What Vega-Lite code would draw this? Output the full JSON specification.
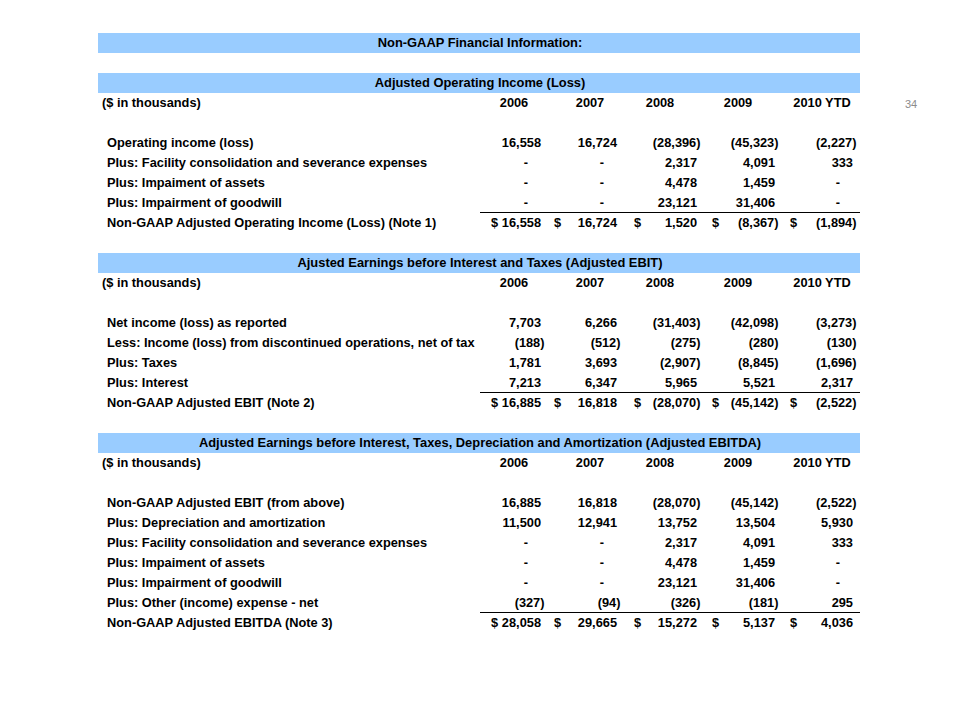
{
  "$schema": "https://vega.github.io/schema/vega-lite/v6.json",
  "width": 960,
  "height": 720,
  "autosize": {"type": "fit", "contains": "padding"},
  "padding": 0,
  "background": "white",
  "config": {
    "view": {"stroke": null},
    "text": {"font": "Liberation Sans", "fontSize": 12.8, "fontWeight": "bold", "baseline": "middle", "color": "#000000"}
  },
  "datasets": {
    "sections": [
      {"title": "Non-GAAP Financial Information:", "titleLine": 0},
      {"title": "Adjusted Operating Income (Loss)", "titleLine": 2, "headerLine": 3, "unit": "($ in thousands)"},
      {"title": "Ajusted Earnings before Interest and Taxes (Adjusted EBIT)", "titleLine": 11, "headerLine": 12, "unit": "($ in thousands)"},
      {"title": "Adjusted Earnings before Interest, Taxes, Depreciation and Amortization (Adjusted EBITDA)", "titleLine": 20, "headerLine": 21, "unit": "($ in thousands)"}
    ],
    "headers": [
      {"line": 3, "year": "2006", "yr": 2006}, {"line": 3, "year": "2007", "yr": 2007}, {"line": 3, "year": "2008", "yr": 2008}, {"line": 3, "year": "2009", "yr": 2009}, {"line": 3, "year": "2010 YTD", "yr": 2010},
      {"line": 12, "year": "2006", "yr": 2006}, {"line": 12, "year": "2007", "yr": 2007}, {"line": 12, "year": "2008", "yr": 2008}, {"line": 12, "year": "2009", "yr": 2009}, {"line": 12, "year": "2010 YTD", "yr": 2010},
      {"line": 21, "year": "2006", "yr": 2006}, {"line": 21, "year": "2007", "yr": 2007}, {"line": 21, "year": "2008", "yr": 2008}, {"line": 21, "year": "2009", "yr": 2009}, {"line": 21, "year": "2010 YTD", "yr": 2010}
    ],
    "rows": [
      {"line": 5, "label": "Operating income (loss)", "total": false},
      {"line": 6, "label": "Plus: Facility consolidation and severance expenses", "total": false},
      {"line": 7, "label": "Plus: Impaiment of assets", "total": false},
      {"line": 8, "label": "Plus: Impairment of goodwill", "total": false},
      {"line": 9, "label": "Non-GAAP Adjusted Operating Income (Loss) (Note 1)", "total": true},
      {"line": 14, "label": "Net income (loss) as reported", "total": false},
      {"line": 15, "label": "Less: Income (loss) from discontinued operations, net of tax", "total": false},
      {"line": 16, "label": "Plus: Taxes", "total": false},
      {"line": 17, "label": "Plus: Interest", "total": false},
      {"line": 18, "label": "Non-GAAP Adjusted EBIT (Note 2)", "total": true},
      {"line": 23, "label": "Non-GAAP Adjusted EBIT (from above)", "total": false},
      {"line": 24, "label": "Plus: Depreciation and amortization", "total": false},
      {"line": 25, "label": "Plus: Facility consolidation and severance expenses", "total": false},
      {"line": 26, "label": "Plus: Impaiment of assets", "total": false},
      {"line": 27, "label": "Plus: Impairment of goodwill", "total": false},
      {"line": 28, "label": "Plus: Other (income) expense - net", "total": false},
      {"line": 29, "label": "Non-GAAP Adjusted EBITDA (Note 3)", "total": true}
    ],
    "cells": [
      {"line": 5, "yr": 2006, "value": 16558}, {"line": 5, "yr": 2007, "value": 16724}, {"line": 5, "yr": 2008, "value": -28396}, {"line": 5, "yr": 2009, "value": -45323}, {"line": 5, "yr": 2010, "value": -2227},
      {"line": 6, "yr": 2006, "value": 0}, {"line": 6, "yr": 2007, "value": 0}, {"line": 6, "yr": 2008, "value": 2317}, {"line": 6, "yr": 2009, "value": 4091}, {"line": 6, "yr": 2010, "value": 333},
      {"line": 7, "yr": 2006, "value": 0}, {"line": 7, "yr": 2007, "value": 0}, {"line": 7, "yr": 2008, "value": 4478}, {"line": 7, "yr": 2009, "value": 1459}, {"line": 7, "yr": 2010, "value": 0},
      {"line": 8, "yr": 2006, "value": 0}, {"line": 8, "yr": 2007, "value": 0}, {"line": 8, "yr": 2008, "value": 23121}, {"line": 8, "yr": 2009, "value": 31406}, {"line": 8, "yr": 2010, "value": 0},
      {"line": 9, "yr": 2006, "value": 16558}, {"line": 9, "yr": 2007, "value": 16724}, {"line": 9, "yr": 2008, "value": 1520}, {"line": 9, "yr": 2009, "value": -8367}, {"line": 9, "yr": 2010, "value": -1894},
      {"line": 14, "yr": 2006, "value": 7703}, {"line": 14, "yr": 2007, "value": 6266}, {"line": 14, "yr": 2008, "value": -31403}, {"line": 14, "yr": 2009, "value": -42098}, {"line": 14, "yr": 2010, "value": -3273},
      {"line": 15, "yr": 2006, "value": -188}, {"line": 15, "yr": 2007, "value": -512}, {"line": 15, "yr": 2008, "value": -275}, {"line": 15, "yr": 2009, "value": -280}, {"line": 15, "yr": 2010, "value": -130},
      {"line": 16, "yr": 2006, "value": 1781}, {"line": 16, "yr": 2007, "value": 3693}, {"line": 16, "yr": 2008, "value": -2907}, {"line": 16, "yr": 2009, "value": -8845}, {"line": 16, "yr": 2010, "value": -1696},
      {"line": 17, "yr": 2006, "value": 7213}, {"line": 17, "yr": 2007, "value": 6347}, {"line": 17, "yr": 2008, "value": 5965}, {"line": 17, "yr": 2009, "value": 5521}, {"line": 17, "yr": 2010, "value": 2317},
      {"line": 18, "yr": 2006, "value": 16885}, {"line": 18, "yr": 2007, "value": 16818}, {"line": 18, "yr": 2008, "value": -28070}, {"line": 18, "yr": 2009, "value": -45142}, {"line": 18, "yr": 2010, "value": -2522},
      {"line": 23, "yr": 2006, "value": 16885}, {"line": 23, "yr": 2007, "value": 16818}, {"line": 23, "yr": 2008, "value": -28070}, {"line": 23, "yr": 2009, "value": -45142}, {"line": 23, "yr": 2010, "value": -2522},
      {"line": 24, "yr": 2006, "value": 11500}, {"line": 24, "yr": 2007, "value": 12941}, {"line": 24, "yr": 2008, "value": 13752}, {"line": 24, "yr": 2009, "value": 13504}, {"line": 24, "yr": 2010, "value": 5930},
      {"line": 25, "yr": 2006, "value": 0}, {"line": 25, "yr": 2007, "value": 0}, {"line": 25, "yr": 2008, "value": 2317}, {"line": 25, "yr": 2009, "value": 4091}, {"line": 25, "yr": 2010, "value": 333},
      {"line": 26, "yr": 2006, "value": 0}, {"line": 26, "yr": 2007, "value": 0}, {"line": 26, "yr": 2008, "value": 4478}, {"line": 26, "yr": 2009, "value": 1459}, {"line": 26, "yr": 2010, "value": 0},
      {"line": 27, "yr": 2006, "value": 0}, {"line": 27, "yr": 2007, "value": 0}, {"line": 27, "yr": 2008, "value": 23121}, {"line": 27, "yr": 2009, "value": 31406}, {"line": 27, "yr": 2010, "value": 0},
      {"line": 28, "yr": 2006, "value": -327}, {"line": 28, "yr": 2007, "value": -94}, {"line": 28, "yr": 2008, "value": -326}, {"line": 28, "yr": 2009, "value": -181}, {"line": 28, "yr": 2010, "value": 295},
      {"line": 29, "yr": 2006, "value": 28058}, {"line": 29, "yr": 2007, "value": 29665}, {"line": 29, "yr": 2008, "value": 15272}, {"line": 29, "yr": 2009, "value": 5137}, {"line": 29, "yr": 2010, "value": 4036}
    ],
    "page": [{"page": "34"}]
  },
  "layer": [
    {
      "data": {"name": "sections"},
      "mark": {"type": "rule", "color": "#99ccff", "strokeWidth": 20, "strokeCap": "butt"},
      "encoding": {
        "x": {"datum": 2004, "type": "quantitative", "axis": null, "scale": {"domain": [2004, 2004.1, 2005, 2006, 2007, 2008, 2009, 2010, 2011, 2012], "range": [98, 107, 480, 541, 617, 697, 775, 853, 860, 911], "nice": false, "zero": false}},
        "x2": {"datum": 2011},
        "y": {"field": "titleLine", "type": "quantitative", "axis": null, "scale": {"domain": [-2.15, 33.85], "range": [0, 720], "nice": false, "zero": false}}
      }
    },
    {
      "data": {"name": "sections"},
      "mark": {"type": "text", "align": "center", "fontSize": 12.9},
      "encoding": {
        "x": {"datum": 2005, "type": "quantitative"},
        "y": {"field": "titleLine", "type": "quantitative"},
        "text": {"field": "title"}
      }
    },
    {
      "data": {"name": "sections"},
      "transform": [{"filter": "isValid(datum.unit)"}],
      "mark": {"type": "text", "align": "left", "dx": -5},
      "encoding": {
        "x": {"datum": 2004.1, "type": "quantitative"},
        "y": {"field": "headerLine", "type": "quantitative"},
        "text": {"field": "unit"}
      }
    },
    {
      "data": {"name": "headers"},
      "transform": [{"filter": "datum.yr <= 2007"}],
      "mark": {"type": "text", "align": "center", "dx": -27},
      "encoding": {
        "x": {"field": "yr", "type": "quantitative"},
        "y": {"field": "line", "type": "quantitative"},
        "text": {"field": "year"}
      }
    },
    {
      "data": {"name": "headers"},
      "transform": [{"filter": "datum.yr == 2008 || datum.yr == 2009"}],
      "mark": {"type": "text", "align": "center", "dx": -37},
      "encoding": {
        "x": {"field": "yr", "type": "quantitative"},
        "y": {"field": "line", "type": "quantitative"},
        "text": {"field": "year"}
      }
    },
    {
      "data": {"name": "headers"},
      "transform": [{"filter": "datum.yr == 2010"}],
      "mark": {"type": "text", "align": "center", "dx": -31},
      "encoding": {
        "x": {"field": "yr", "type": "quantitative"},
        "y": {"field": "line", "type": "quantitative"},
        "text": {"field": "year"}
      }
    },
    {
      "data": {"name": "rows"},
      "mark": {"type": "text", "align": "left"},
      "encoding": {
        "x": {"datum": 2004.1, "type": "quantitative"},
        "y": {"field": "line", "type": "quantitative"},
        "text": {"field": "label"}
      }
    },
    {
      "data": {"name": "rows"},
      "transform": [{"filter": "datum.total"}],
      "mark": {"type": "rule", "color": "#000000", "strokeWidth": 1, "yOffset": -10.5},
      "encoding": {
        "x": {"datum": 2005, "type": "quantitative"},
        "x2": {"datum": 2011},
        "y": {"field": "line", "type": "quantitative"}
      }
    },
    {
      "data": {"name": "cells"},
      "transform": [{"filter": "datum.value > 0"}],
      "mark": {"type": "text", "align": "right"},
      "encoding": {
        "x": {"field": "yr", "type": "quantitative"},
        "y": {"field": "line", "type": "quantitative"},
        "text": {"field": "value", "type": "quantitative", "format": ",.0f"}
      }
    },
    {
      "data": {"name": "cells"},
      "transform": [{"filter": "datum.value < 0"}],
      "mark": {"type": "text", "align": "right", "dx": 3.5},
      "encoding": {
        "x": {"field": "yr", "type": "quantitative"},
        "y": {"field": "line", "type": "quantitative"},
        "text": {"field": "value", "type": "quantitative", "format": "(,.0f"}
      }
    },
    {
      "data": {"name": "cells"},
      "transform": [{"filter": "datum.value == 0"}],
      "mark": {"type": "text", "align": "right", "dx": -13},
      "encoding": {
        "x": {"field": "yr", "type": "quantitative"},
        "y": {"field": "line", "type": "quantitative"},
        "text": {"value": "-"}
      }
    },
    {
      "data": {"name": "cells"},
      "transform": [
        {"lookup": "line", "from": {"data": {"name": "rows"}, "key": "line", "fields": ["total"]}},
        {"filter": "datum.total && datum.yr == 2006"}
      ],
      "mark": {"type": "text", "align": "left", "dx": -50},
      "encoding": {
        "x": {"field": "yr", "type": "quantitative"},
        "y": {"field": "line", "type": "quantitative"},
        "text": {"value": "$"}
      }
    },
    {
      "data": {"name": "cells"},
      "transform": [
        {"lookup": "line", "from": {"data": {"name": "rows"}, "key": "line", "fields": ["total"]}},
        {"filter": "datum.total && datum.yr > 2006"}
      ],
      "mark": {"type": "text", "align": "left", "dx": -63},
      "encoding": {
        "x": {"field": "yr", "type": "quantitative"},
        "y": {"field": "line", "type": "quantitative"},
        "text": {"value": "$"}
      }
    },
    {
      "data": {"name": "page"},
      "mark": {"type": "text", "align": "center", "fontSize": 11, "fontWeight": "normal", "color": "#8c8c8c", "font": "Liberation Sans"},
      "encoding": {
        "x": {"datum": 2012, "type": "quantitative"},
        "y": {"datum": 3.1, "type": "quantitative"},
        "text": {"field": "page"}
      }
    }
  ]
}
